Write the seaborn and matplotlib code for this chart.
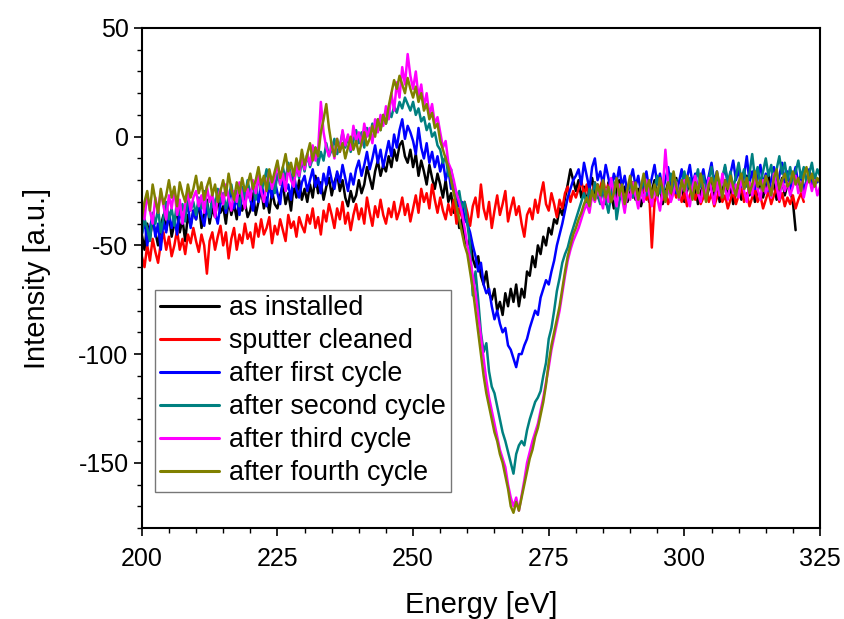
import numpy as np
import pandas as pd
import seaborn as sns
import matplotlib
matplotlib.use("Agg")
import matplotlib.pyplot as plt
from matplotlib.ticker import MultipleLocator

# ---------------- data (0.5 eV steps from 200 eV) ----------------
labels = ["as installed", "sputter cleaned", "after first cycle",
          "after second cycle", "after third cycle", "after fourth cycle"]
colors = ["#000000", "#ff0000", "#0000ff", "#008080", "#ff00ff", "#808000"]
start_energy = 200.0
energy_step = 0.5

as_installed = [
    -45, -52, -40, -47, -38, -44, -50, -41, -36, -43,
    -35, -46, -40, -33, -44, -38, -48, -36, -41, -34,
    -38, -30, -42, -36, -29, -40, -33, -37, -28, -35,
    -32, -40, -29, -36, -31, -38, -27, -34, -30, -37,
    -34, -26, -36, -30, -24, -33, -28, -35, -25, -31,
    -33, -27, -22, -31, -26, -34, -22, -28, -20, -29,
    -24, -30, -22, -28, -18, -26, -21, -29, -23, -19,
    -27, -21, -17, -25, -20, -28, -32, -25, -30, -27,
    -20, -26, -22, -14, -19, -24, -16, -11, -18, -13,
    -16, -9, -14, -6, -11, -4, -2, -9, -12, -6,
    -14, -8, -18, -11, -16, -22, -13, -19, -24, -17,
    -22, -28, -20, -30, -26, -35, -30, -42, -38, -48,
    -50, -46, -56, -60, -55, -64, -68, -62, -72, -75,
    -70, -80, -76, -82, -72, -78, -70, -76, -68, -78,
    -70, -74, -62, -64, -55, -60, -50, -54, -46, -50,
    -42, -45, -38, -40, -33, -36, -28, -22, -15, -20,
    -25, -20, -28, -23, -30, -24, -19, -27, -22, -29,
    -24, -31, -21, -26, -33, -25, -20, -28, -23, -30,
    -26, -21, -29, -24, -32, -27, -22, -30, -25, -20,
    -28, -23, -31, -26, -21, -29, -24, -19, -27, -22,
    -30, -25, -20, -28, -23, -31, -26, -21, -29, -24,
    -19, -27, -22, -30, -25, -20, -28, -23, -31, -26,
    -21, -29, -24, -18, -27, -22, -30, -25, -20, -28,
    -23, -17, -26, -21, -29, -24, -19, -27, -22, -25,
    -30, -43]

sputter_cleaned = [
    -55, -60, -50, -57, -47, -53, -58, -49, -44, -52,
    -46, -55, -50, -43, -52, -47, -54, -45, -49, -42,
    -48, -53, -45, -50, -63, -48, -44, -52, -46, -41,
    -50, -44, -56, -47, -42, -52, -45, -49, -40, -47,
    -44, -51, -40, -46, -38, -45, -42, -37, -49, -41,
    -45, -38, -43, -48, -36, -42, -39, -46, -37, -41,
    -44, -36, -40, -33, -42, -37, -45, -34, -39, -31,
    -36, -42, -33, -38, -30, -40, -35, -43, -36, -31,
    -38, -33, -40, -28, -35, -41, -32, -37, -29, -36,
    -40, -33, -37, -30, -38, -34, -28, -36, -31, -39,
    -33, -27, -35, -24, -30, -26, -33, -22, -29, -35,
    -28, -34, -38, -31, -36, -29, -40, -33, -37, -30,
    -35, -41, -32, -28, -37, -22, -33, -38, -30, -42,
    -34, -27, -36, -31, -25, -39, -33, -28, -36, -32,
    -40, -46, -36, -33, -38, -29, -35, -27, -21, -31,
    -34, -26, -31, -37, -29, -33, -26, -23, -30, -25,
    -28, -24, -20, -27, -22, -30, -25, -21, -28, -23,
    -19, -26, -22, -29, -24, -20, -27, -23, -30, -25,
    -22, -28, -24, -30, -26, -23, -29, -25, -51, -30,
    -26, -22, -29, -25, -31, -27, -23, -28, -24, -30,
    -26, -32, -27, -23, -29, -25, -31, -28, -24, -30,
    -26, -32, -28, -24, -30, -27, -33, -29, -25, -31,
    -27, -23, -30, -26, -32, -28, -24, -30, -27, -33,
    -29, -25, -31, -27, -23, -30, -26, -32, -28, -31,
    -27, -33, -29, -26, -30]

first_cycle = [
    -45, -38, -50, -42, -36, -46, -40, -52, -39, -44,
    -35, -42, -37, -45, -33, -40, -36, -31, -42, -34,
    -38, -30, -36, -41, -32, -37, -29, -35, -40, -31,
    -27, -35, -30, -24, -33, -28, -36, -26, -31, -25,
    -29, -34, -24, -30, -21, -27, -32, -22, -28, -20,
    -26, -31, -19, -25, -22, -29, -17, -24, -28, -21,
    -18, -25, -20, -15, -23, -19, -26, -17, -22, -14,
    -20, -24, -16, -21, -13, -19, -25, -17, -22, -15,
    -11, -18, -13, -7, -15, -10, -4, -12, -6, -14,
    -8, -2, -9, 1, -5, 3, 8, -1, 5, 2,
    -2, -8, 4, -5, -10, -3, -12, -7, -14, -9,
    -16, -11, -20, -15, -24, -22, -28, -32, -30, -38,
    -40, -44, -50, -55, -62, -58, -68, -72, -70, -78,
    -84, -80, -86, -90, -88, -96, -98, -102, -106, -100,
    -100, -96, -93, -88, -84, -80, -82, -74, -70, -66,
    -68, -62, -57, -50, -45, -40, -34, -28, -24, -20,
    -18, -15, -22, -12, -18, -24, -14, -10, -20, -16,
    -22, -13, -19, -25, -17, -21, -14, -23, -18, -26,
    -20, -15, -23, -18, -26, -21, -16, -24, -19, -13,
    -22, -17, -25, -20, -14, -23, -18, -26, -21, -15,
    -24, -19, -13, -22, -17, -25, -20, -15, -23, -18,
    -12, -21, -16, -24, -19, -14, -22, -17, -11, -20,
    -15, -23, -18, -9, -21, -16, -24, -19, -13, -22,
    -17, -25, -20, -14, -23, -18, -12, -21, -16, -24,
    -19, -14, -22, -17, -25, -20, -15, -23, -18, -21, -19]

second_cycle = [
    -45, -38, -42, -48, -35, -40, -33, -44, -37, -30,
    -38, -33, -41, -29, -36, -31, -39, -27, -34, -30,
    -36, -28, -33, -25, -31, -37, -27, -32, -24, -30,
    -26, -33, -28, -22, -30, -25, -32, -23, -28, -20,
    -27, -22, -29, -18, -25, -21, -15, -24, -19, -26,
    -17, -22, -14, -20, -12, -18, -23, -13, -19, -11,
    -16, -8, -14, -10, -5, -13, -7, -11, -3, -9,
    -6, -1, -8, -4, 2, -5, 0, -7, -2, 3,
    -3, 2, -5, 4, 0, 6, 2, 8, 3, 10,
    6, 12, 9, 14, 11, 16, 13, 18, 15, 12,
    16, 10, 13, 7, 9, 3, 6, 0, 2, -4,
    -6, -12, -9, -18, -15, -22, -28, -25, -33, -30,
    -40, -50, -73, -62, -75, -90, -99, -95, -108, -115,
    -118, -124, -130, -136, -140, -145, -150, -155, -146, -142,
    -140, -142, -135, -130, -126, -122, -120, -117, -110, -104,
    -93, -88, -80, -71, -65, -58, -54, -51, -46, -42,
    -38, -34, -30, -26, -31, -24, -28, -21, -27, -31,
    -23, -29, -35, -27, -21, -38, -30, -24, -33, -26,
    -20, -28, -23, -31, -25, -19, -27, -22, -30, -24,
    -18, -26, -21, -29, -23, -17, -25, -20, -28, -22,
    -16, -24, -19, -27, -21, -15, -23, -18, -26, -20,
    -14, -22, -17, -25, -19, -13, -21, -16, -24, -18,
    -12, -20, -15, -23, -17, -8, -19, -14, -22, -16,
    -10, -18, -13, -21, -15, -9, -17, -12, -20, -14,
    -22, -16, -11, -19, -14, -21, -17, -12, -20, -15, -18]

third_cycle = [
    -30, -38, -26, -34, -40, -28, -35, -25, -32, -38,
    -27, -33, -24, -36, -29, -40, -31, -26, -34, -28,
    -25, -32, -27, -35, -23, -30, -26, -37, -28, -24,
    -31, -22, -28, -34, -25, -30, -21, -27, -33, -24,
    -29, -20, -26, -18, -25, -30, -22, -16, -24, -19,
    -12, -22, -17, -25, -14, -20, -23, -13, -18, -9,
    -15, -8, -13, -4, -11, -6, 16, 2, -5, -9,
    -3, -10, -1, -7, 3, -4, 1, -6, 5, -2,
    2, -4, 6, 0, 4, -3, 8, 2, 10, 5,
    14, 8, 20, 12, 25, 18, 32, 24, 38, 28,
    22, 30, 18, 24, 14, 20, 10, 15, 6, 9,
    2, -5, -2, -12, -15, -20, -26, -30, -35, -42,
    -50, -56, -64, -72, -82, -92, -102, -112, -120, -126,
    -132, -138, -144, -148, -152, -160, -166, -170, -166, -172,
    -165, -158, -150, -145, -140, -136, -132, -126, -120, -113,
    -106, -98, -92, -86, -80, -72, -64, -57, -52, -48,
    -45, -42, -38, -34, -31, -35, -27, -30, -24, -28,
    -33, -24, -30, -19, -26, -32, -22, -28, -35, -25,
    -29, -21, -27, -33, -24, -30, -20, -26, -32, -23,
    -28, -34, -25, -6, -22, -30, -26, -21, -29, -24,
    -20, -27, -32, -23, -18, -26, -30, -22, -28, -19,
    -25, -31, -21, -27, -17, -24, -29, -20, -26, -22,
    -28, -19, -25, -30, -21, -27, -18, -24, -29, -20,
    -26, -22, -28, -17, -23, -29, -20, -25, -21, -27,
    -23, -18, -26, -21, -28, -22, -19, -25, -20, -27, -23]

fourth_cycle = [
    -38, -30, -25, -34, -22, -29, -35, -24, -31, -27,
    -20, -28, -23, -32, -21, -26, -30, -22, -28, -24,
    -18, -26, -21, -29, -23, -19, -27, -22, -30, -25,
    -20, -27, -17, -24, -29, -21, -26, -19, -25, -22,
    -17, -24, -20, -14, -22, -18, -25, -15, -21, -16,
    -11, -19, -14, -8, -16, -12, -18, -10, -15, -6,
    -13, -8, -3, -11, -5, -9, 2, 8, 15, 4,
    -4, -9, -1, -7, -3, -10, -5, 0, -6, -2,
    -8, -3, 2, -4, -1, 5, 0, 8, 3, 10,
    6, 14, 20, 26, 22, 28, 24, 20, 27, 22,
    18, 23, 16, 20, 12, 15, 8, 11, 4, 6,
    -2, -6, -10, -14, -20, -26, -32, -38, -44, -50,
    -54, -62, -70, -80, -90, -100, -110, -118, -124, -130,
    -136, -140, -146, -150, -156, -162, -170, -173, -168, -172,
    -166, -160, -154, -148, -144, -138, -134, -128, -122, -114,
    -104, -96, -90, -84, -78, -70, -62, -55, -50, -45,
    -42, -38, -35, -31, -28, -32, -25, -29, -22, -27,
    -20, -28, -23, -30, -26, -19, -27, -22, -31, -24,
    -18, -26, -21, -29, -23, -17, -25, -20, -28, -22,
    -27, -19, -24, -30, -21, -26, -16, -23, -28, -20,
    -25, -18, -23, -29, -21, -26, -17, -24, -30, -22,
    -19, -25, -16, -22, -28, -20, -24, -18, -23, -27,
    -21, -17, -24, -19, -26, -22, -16, -23, -20, -25,
    -18, -22, -27, -19, -15, -24, -20, -17, -23, -21,
    -16, -22, -19, -25, -18, -14, -21, -17, -23, -19, -21]

series = [as_installed, sputter_cleaned, first_cycle,
          second_cycle, third_cycle, fourth_cycle]

frames = []
for lab, vals in zip(labels, series):
    frames.append(pd.DataFrame({
        "Energy": start_energy + energy_step * np.arange(len(vals)),
        "Intensity": vals,
        "Sample": lab,
    }))
df = pd.concat(frames, ignore_index=True)

# ---------------- plot ----------------
sns.set_style("ticks")
plt.rcParams["font.family"] = ["Liberation Sans", "DejaVu Sans"]
plt.rcParams["axes.unicode_minus"] = False
plt.rcParams["text.color"] = "black"
plt.rcParams["axes.labelcolor"] = "black"
plt.rcParams["xtick.color"] = "black"
plt.rcParams["ytick.color"] = "black"

fig = plt.figure(figsize=(8.44, 6.19), dpi=100)
ax = fig.add_axes([0.168, 0.147, 0.8036, 0.8078])

sns.lineplot(data=df, x="Energy", y="Intensity", hue="Sample",
             hue_order=labels, palette=colors, linewidth=1.8,
             estimator=None, sort=False, ax=ax)

ax.set_xlim(200, 325)
ax.set_ylim(-180, 50)
ax.xaxis.set_major_locator(MultipleLocator(25))
ax.xaxis.set_minor_locator(MultipleLocator(5))
ax.yaxis.set_major_locator(MultipleLocator(50))
ax.yaxis.set_minor_locator(MultipleLocator(10))
ax.tick_params(which="major", direction="out", length=6, width=1.2,
               labelsize=18, colors="black")
ax.tick_params(which="minor", direction="out", length=3.5, width=1.0,
               colors="black")
ax.tick_params(axis="x", which="major", pad=8)
ax.tick_params(top=False, right=False, which="both")
for s in ax.spines.values():
    s.set_visible(True)
    s.set_linewidth(1.5)
    s.set_color("black")

ax.set_xlabel("Energy [eV]", fontsize=21, labelpad=14, color="black")
ax.set_ylabel("Intensity [a.u.]", fontsize=21, labelpad=20, color="black")

leg = ax.legend(loc="upper left", bbox_to_anchor=(0.019, 0.476),
                fontsize=19.4, frameon=True, fancybox=False,
                handlelength=2.2, handletextpad=0.35,
                labelspacing=0.26, borderpad=0.2, borderaxespad=0)
leg.get_frame().set_edgecolor("#555555")
leg.get_frame().set_linewidth(1.0)
for line in leg.get_lines():
    line.set_linewidth(2.2)
for t in leg.get_texts():
    t.set_color("black")

fig.savefig("out.png", dpi=100)
